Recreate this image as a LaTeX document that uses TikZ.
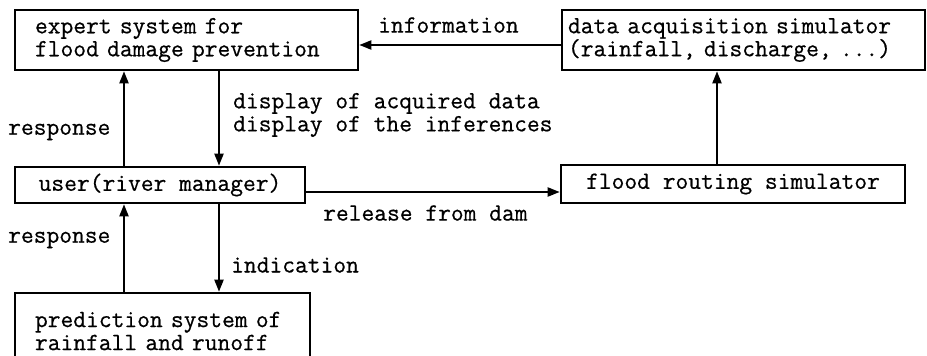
\documentclass[tikz,border=0pt]{standalone}
\usepackage{fontspec}
\setmonofont{Latin Modern Mono}[FakeBold=0.6]
\usetikzlibrary{arrows.meta,calc}
\begin{document}
\begin{tikzpicture}[x=1pt,y=-1pt,
  every node/.style={font=\ttfamily\fontsize{24.8}{23}\selectfont},
  box/.style={draw,line width=2.6pt,inner ysep=0pt},
  lbl/.style={inner sep=0pt},
  arr/.style={line width=2pt,-{Triangle[length=12pt,width=9pt]}}]
\path[use as bounding box,fill=white] (0,0) rectangle (927,356);
\clip (0,0) rectangle (927,356);
% boxes
\node[box,minimum width=343pt,minimum height=60pt,inner xsep=20pt,text width=303pt,align=left] (expert) at (186.5,40) {expert system for\\flood damage prevention};
\node[box,minimum width=363pt,minimum height=60pt,inner xsep=6pt,text width=351pt,align=left] (data) at (743.5,40) {data acquisition simulator\\(rainfall, discharge, ...)};
\node[box,minimum width=290pt,minimum height=36pt] (user) at (160,185) {user(river manager)};
\node[box,minimum width=344pt,minimum height=38pt] (flood) at (733,184) {flood routing simulator};
\node[box,minimum width=295pt,minimum height=76pt,inner xsep=20pt,text width=255pt,align=left] (pred) at (162.5,331) {prediction system of\\rainfall and runoff};
% helper coordinates
\coordinate (xa) at (124,0);
\coordinate (xb) at (219,0);
\coordinate (xc) at (717,0);
\coordinate (ya) at (0,45);
\coordinate (yb) at (0,192);
% connectors
\draw[arr] (data.west |- ya) -- (expert.east |- ya);
\draw[arr] (user.north -| xa) -- (expert.south -| xa);
\draw[arr] (expert.south -| xb) -- (user.north -| xb);
\draw[arr] (user.east |- yb) -- (flood.west |- yb);
\draw[arr] (flood.north -| xc) -- (data.south -| xc);
\draw[arr] (pred.north -| xa) -- (user.south -| xa);
\draw[arr] (user.south -| xb) -- (pred.north -| xb);
% labels
\node[lbl,anchor=west] (linfo) at (378,25) {information};
\node[lbl,anchor=west,align=left] (ldisp) at (233,115) {display of acquired data\\display of the inferences};
\node[lbl,anchor=west] (lresp1) at (8,132) {response};
\node[lbl,anchor=west] (lrel) at (323,213) {release from dam};
\node[lbl,anchor=west] (lresp2) at (8,240) {response};
\node[lbl,anchor=west] (lind) at (231,265) {indication};
\end{tikzpicture}
\end{document}
